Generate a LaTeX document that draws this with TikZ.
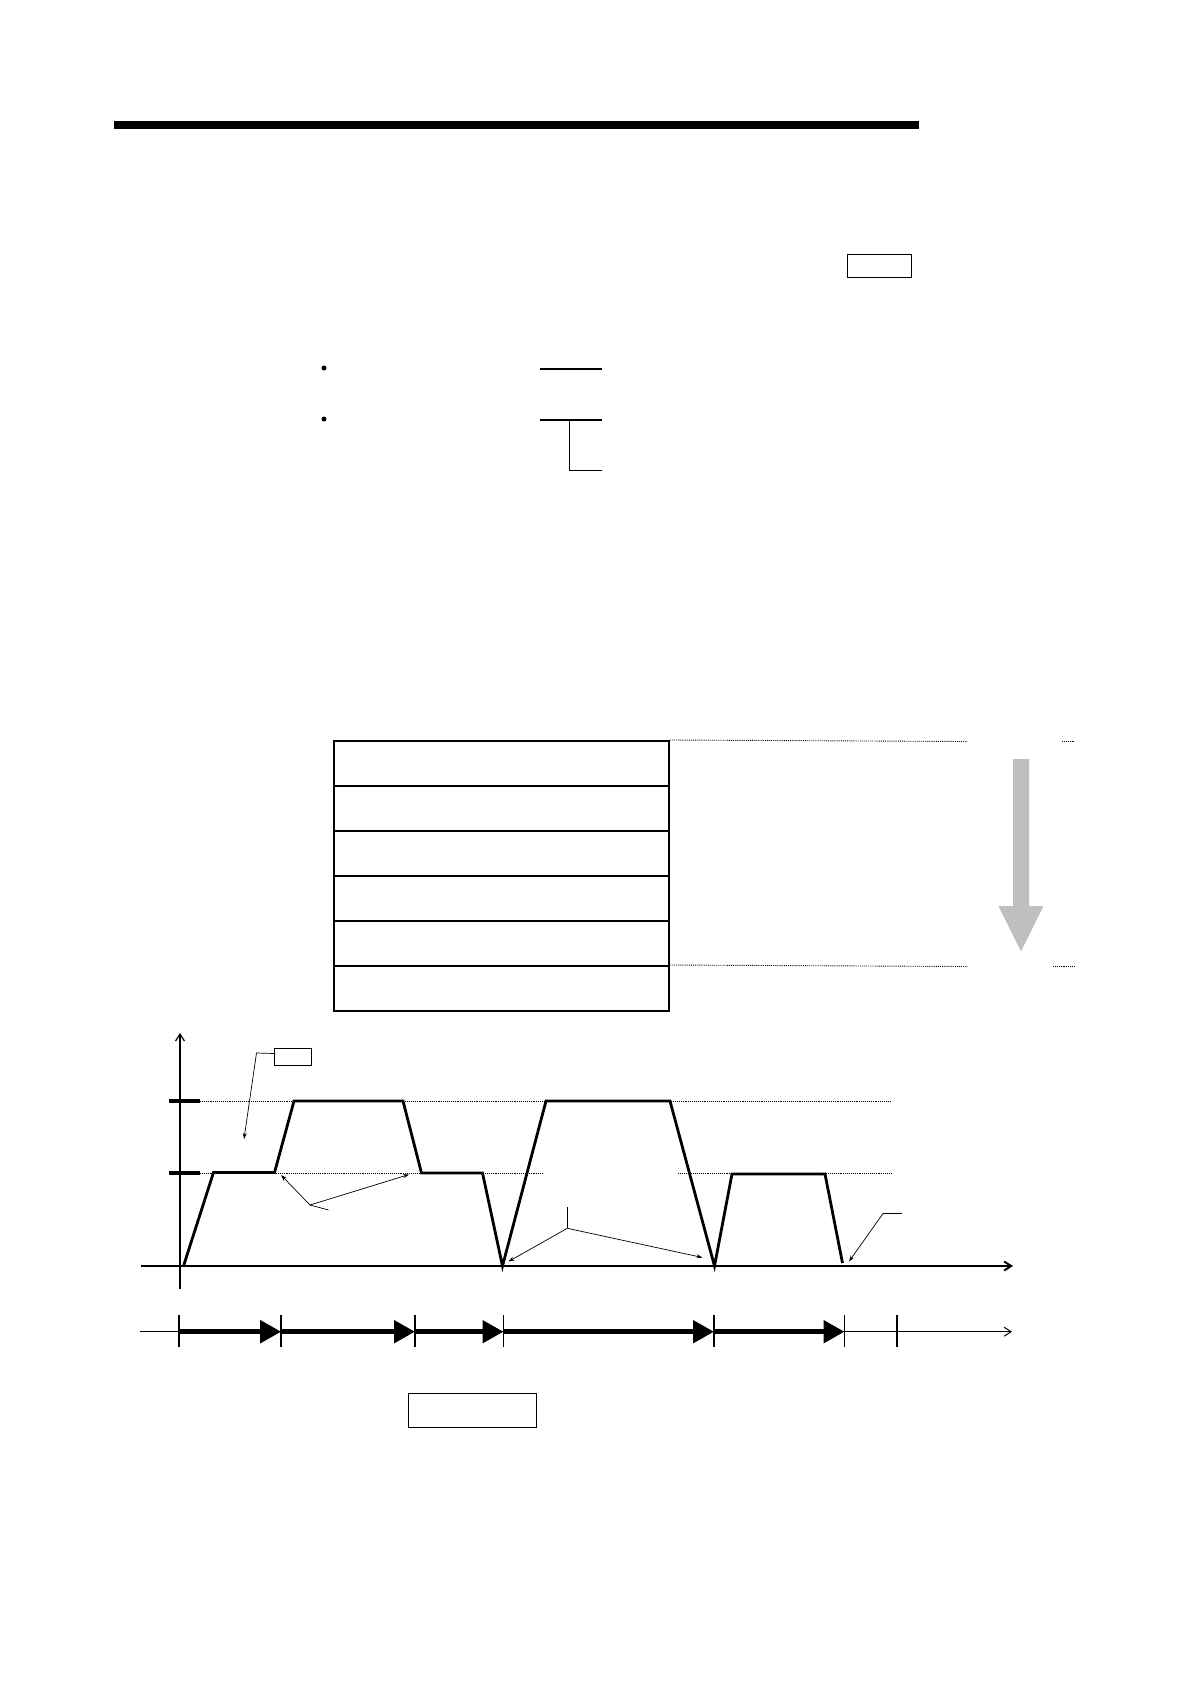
\documentclass[tikz,border=0pt]{standalone}
\usetikzlibrary{arrows.meta}
\begin{document}
\begin{tikzpicture}[x=1pt,y=-1pt,
  box/.style={draw, line width=1pt, inner sep=0pt, anchor=north west},
  rowbox/.style={draw, line width=2.2pt, inner sep=0pt, anchor=north west, minimum width=335pt, minimum height=45.1pt},
  guide/.style={densely dotted, line width=0.9pt},
  leader/.style={line width=0.7pt},
  lead/.style={line width=0.7pt, -{Stealth[length=6pt,width=4pt]}},
  axis/.style={-{Straight Barb[length=7pt,width=9pt]}},
  profile/.style={line width=2.8pt, line join=miter},
  seg/.style={line width=5pt, -{Triangle[length=21pt,width=22pt]}},
  dot/.style={circle, fill, inner sep=0pt, minimum size=5pt}
]
\useasboundingbox (0,0) rectangle (1190,1684);

% top rule
\fill (114,120.5) rectangle (919,129);
\node[box, minimum width=64pt, minimum height=23pt] (tbox) at (847,254) {};

% bullets and lines
\node[dot] (bul1) at (324,368) {};
\node[dot] (bul2) at (324,419) {};
\draw[line width=1.2pt] (540,369) -- (602,369);
\draw[line width=1.2pt] (540,420) -- (602,420);
\draw[line width=1pt] (569,420) |- (602,470);

% table
\foreach \i/\y in {1/740,2/785,3/830,4/875,5/920,6/965}{
  \node[rowbox] (r\i) at (333,\y) {};
}
\coordinate (g1a) at (967,741.5);
\coordinate (g1b) at (1062,741.5);
\coordinate (g1c) at (1075,741.5);
\coordinate (g2a) at (967,966.5);
\coordinate (g2b) at (1053,966.5);
\coordinate (g2c) at (1075,966.5);
\draw[guide] (r1.north east) -- (g1a);
\draw[guide] (g1b) -- (g1c);
\draw[guide] (r6.north east) -- (g2a);
\draw[guide] (g2b) -- (g2c);
\fill[black!25] (1013,759) -- (1029,759) -- (1029,906) -- (1043.5,906) -- (1021,951.5) -- (998.5,906) -- (1013,906) -- cycle;

% chart axes
\coordinate (ya) at (180,1289);
\coordinate (yb) at (180,1033);
\coordinate (xa) at (141,1266);
\coordinate (xb) at (1013,1266);
\draw[axis, line width=1.2pt] (ya) -- (yb);
\draw[axis, line width=2pt] (xa) -- (xb);
\draw[line width=4pt] (169,1101) -- (200,1101);
\draw[line width=4pt] (169,1172.7) -- (200,1172.7);
\draw[guide] (200,1101) -- (891,1101);
\draw[guide] (200,1173) -- (543,1173);
\draw[guide] (678,1173) -- (891,1173);

% profile
\draw[profile] (183.5,1266) -- (213.5,1172.5) -- (274.5,1172.5) -- (294,1101) -- (403,1101)
  -- (421.5,1173) -- (482.5,1173) -- (502.5,1266) -- (546,1101) -- (670,1101)
  -- (714.5,1266) -- (732,1174) -- (825,1174) -- (842.5,1263);

% callouts
\node[box, minimum width=37pt, minimum height=17pt] (vbox) at (274,1048) {};
\coordinate (v1) at (256.5,1053);
\coordinate (v2) at (244,1139);
\draw[lead] ([yshift=3.5pt]vbox.west) -- (v1) -- (v2);

\coordinate (c1t) at (328.5,1210);
\coordinate (c1) at (310,1205);
\coordinate (c1a) at (281,1175);
\coordinate (c1b) at (409,1174.5);
\draw[leader] (c1t) -- (c1);
\draw[lead] (c1) -- (c1a);
\draw[lead] (c1) -- (c1b);

\coordinate (c2t) at (567.3,1206.5);
\coordinate (c2) at (567.3,1228.3);
\coordinate (c2a) at (508.5,1261.5);
\coordinate (c2b) at (702.5,1257.5);
\draw[leader] (c2t) -- (c2);
\draw[lead] (c2) -- (c2a);
\draw[lead] (c2) -- (c2b);

\coordinate (c3t) at (902,1213.5);
\coordinate (c3) at (883,1213.5);
\coordinate (c3a) at (849,1261.5);
\draw[lead] (c3t) -- (c3) -- (c3a);

% timeline
\coordinate (ta) at (140,1331.7);
\coordinate (tb) at (1012,1331.7);
\draw[axis, line width=1pt] (ta) -- (tb);
\foreach \i/\x in {1/179.3,2/281.2,3/415,4/503.5,5/714,6/844.5,7/897}{
  \coordinate (t\i) at (\x,1331.7);
  \draw[line width=1.8pt] (\x,1315) -- (\x,1347);
}
\draw[seg] (t1) -- (t2);
\draw[seg] (t2) -- (t3);
\draw[seg] (t3) -- (t4);
\draw[seg] (t4) -- (t5);
\draw[seg] (t5) -- (t6);

\node[box, minimum width=128pt, minimum height=33.5pt] (bbox) at (408,1393) {};
\end{tikzpicture}
\end{document}
